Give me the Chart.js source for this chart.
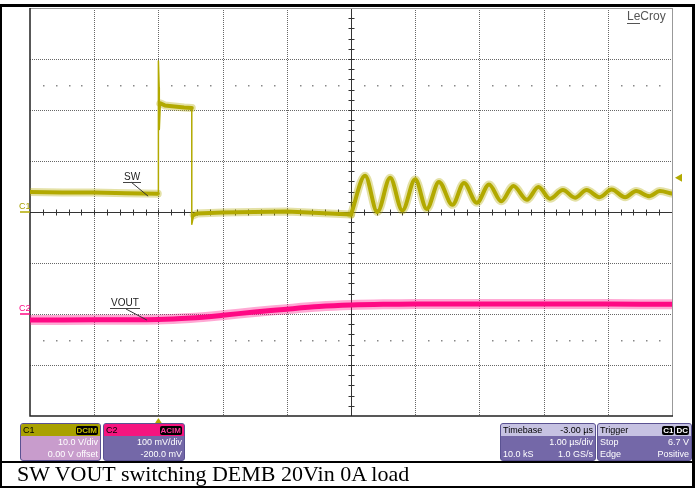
<!DOCTYPE html>
<html>
<head>
<meta charset="utf-8">
<script src="https://cdn.jsdelivr.net/npm/chart.js@4.4.1/dist/chart.umd.min.js"></script>
<style>
  html, body { margin: 0; padding: 0; background: #fff; }
  #wrap { position: relative; width: 695px; height: 488px; overflow: hidden; font-family: "Liberation Sans", Arial, sans-serif; }
  #scope { position: absolute; left: 0; top: 0; }
  .bar { position: absolute; background: #000; }
  .tag { position: absolute; font-size: 10px; line-height: 9px; white-space: nowrap; }
  .panel { position: absolute; top: 423px; height: 36px; border: 1px solid #5a5292; border-radius: 3px; overflow: hidden; font-size: 9px; color: #fff; background: #7468a8; }
  .panel .hd { height: 12px; line-height: 12px; padding: 0 2px; display: flex; justify-content: space-between; align-items: center; color: #000; }
  .panel .row { height: 12px; line-height: 12px; padding: 0 2px; display: flex; justify-content: space-between; }
  .badge { background: #000; border-radius: 2px; padding: 0 1px; line-height: 9px; font-size: 8px; font-weight: bold; }
  #caption { position: absolute; left: 17px; top: 462px; font-family: "Liberation Serif", "Times New Roman", serif; font-size: 22px; line-height: 24px; color: #000; white-space: nowrap; }
</style>
</head>
<body>
<div id="wrap">
  <canvas id="scope" width="695" height="488"></canvas>

  <div class="bar" style="left:0;top:4px;width:695px;height:3px"></div>
  <div class="bar" style="left:0;top:4px;width:2px;height:484px"></div>
  <div class="bar" style="left:692px;top:4px;width:3px;height:484px"></div>
  <div class="bar" style="left:0;top:461px;width:695px;height:2px"></div>
  <div class="bar" style="left:0;top:486px;width:695px;height:2px"></div>

  <div class="tag" style="left:627px;top:11px;font-size:12px;line-height:11px;color:#555">
    <span style="border-bottom:1px solid #555">Le</span>Croy</div>

  <div class="tag" style="left:123px;top:172px;color:#222;border-bottom:1px solid #444;padding:0 1px 1px 1px">SW</div>
  <div class="tag" style="left:110px;top:298px;color:#222;border-bottom:1px solid #444;padding:0 1px 1px 1px">VOUT</div>
  <div class="tag" style="left:19px;top:202px;font-size:9px;color:#a8a000">C1</div>
  <div class="tag" style="left:19px;top:304px;font-size:9px;color:#ff0a85">C2</div>

  <div class="panel" style="left:20px;width:79px;background:#c89ccc">
    <div class="hd" style="background:#a9a100"><span>C1</span><span class="badge" style="color:#c8c000">DCIM</span></div>
    <div class="row"><span></span><span>10.0 V/div</span></div>
    <div class="row"><span></span><span>0.00 V offset</span></div>
  </div>
  <div class="panel" style="left:103px;width:80px">
    <div class="hd" style="background:#f5157f"><span>C2</span><span class="badge" style="color:#ff3a9a">ACIM</span></div>
    <div class="row"><span></span><span>100 mV/div</span></div>
    <div class="row"><span></span><span>-200.0 mV</span></div>
  </div>
  <div class="panel" style="left:500px;width:94px">
    <div class="hd" style="background:#c6c2e2"><span>Timebase</span><span>-3.00 µs</span></div>
    <div class="row"><span></span><span>1.00 µs/div</span></div>
    <div class="row"><span>10.0 kS</span><span>1.0 GS/s</span></div>
  </div>
  <div class="panel" style="left:597px;width:93px">
    <div class="hd" style="background:#c6c2e2"><span>Trigger</span><span><span class="badge" style="color:#fff">C1</span><span class="badge" style="color:#fff;margin-left:1px">DC</span></span></div>
    <div class="row"><span>Stop</span><span>6.7 V</span></div>
    <div class="row"><span>Edge</span><span>Positive</span></div>
  </div>

  <div id="caption">SW VOUT switching DEMB 20Vin 0A load</div>
</div>

<script>
// time in µs, trigger at 0 (1 µs/div)
const timeGrid = [-2, -1, 0, 1, 2, 3, 4, 5, 6, 7, 8];
// C1 volts, 10 V/div
const voltGrid = [-40, -30, -20, -10, 0, 10, 20, 30, 40];

// SW (C1) up to the start of ringing
const swTime  = [-2.0, -1.5, -1.0, -0.5, -0.01, 0.0, 0.0, 0.012, 0.014, 0.03, 0.1, 0.25, 0.4, 0.52, 0.52, 0.55, 0.6, 1.0, 1.5, 2.0, 2.5, 3.0];
const swVolts = [3.9, 3.8, 3.8, 3.7, 3.6, 3.6, 29.6, 24.4, 16.2, 21.3, 20.9, 20.7, 20.5, 20.4, -2.4, -0.6, -0.3, -0.1, 0.0, 0.1, -0.2, -0.5];

// SW ringing after the diode stops conducting (peaks and troughs)
const ringTime  = [3.0, 3.22, 3.41, 3.61, 3.80, 4.00, 4.18, 4.37, 4.58, 4.76, 4.96, 5.15, 5.34, 5.53, 5.74, 5.92, 6.10, 6.30, 6.49, 6.67, 6.87, 7.06, 7.27, 7.44, 7.65, 7.81, 8.0];
const ringVolts = [-0.5, 7.1, 0.0, 6.7, 0.3, 6.4, 0.6, 5.9, 1.4, 5.7, 1.8, 5.4, 2.1, 5.1, 2.4, 4.9, 2.6, 4.3, 2.8, 4.3, 2.9, 4.4, 2.9, 4.1, 3.1, 4.1, 3.6];

// VOUT (C2, AC coupled) in mV
const voutTime = [-2.0, -1.0, 0.0, 0.5, 1.0, 1.5, 2.0, 2.5, 3.0, 3.5, 4.0, 5.0, 6.0, 7.0, 8.0];
const voutMilliVolts = [-11.8, -11.5, -11.0, -8.0, -2.5, 4.0, 9.5, 14.5, 17.5, 19.0, 19.5, 19.6, 19.6, 19.4, 19.2];

const triggerLevel = 6.7;
const SW_COLOR = "#b2aa00";
const VOUT_COLOR = "#ff0a85";

const toPoints = (xs, ys) => xs.map((x, i) => ({ x: x, y: ys[i] }));

// thin line on the fast edges, thick noisy band elsewhere
const isEdge = c => Math.abs(c.p1.x - c.p0.x) < 3;

const scopeGrid = {
  id: "scopeGrid",
  beforeDatasetsDraw(chart) {
    const { ctx, chartArea: a, scales } = chart;
    const x = scales.x, y = scales.y;
    ctx.save();
    ctx.lineWidth = 1;

    // dotted graticule
    ctx.strokeStyle = "#666";
    ctx.setLineDash([1, 1]);
    timeGrid.forEach(t => {
      if (t === timeGrid[0] || t === timeGrid[timeGrid.length - 1] || t === 3) return;
      const px = Math.round(x.getPixelForValue(t)) + 0.5;
      ctx.beginPath(); ctx.moveTo(px, a.top); ctx.lineTo(px, a.bottom); ctx.stroke();
    });
    voltGrid.forEach(v => {
      if (v === voltGrid[0] || v === voltGrid[voltGrid.length - 1] || v === 0) return;
      const py = Math.round(y.getPixelForValue(v)) + 0.5;
      ctx.beginPath(); ctx.moveTo(a.left, py); ctx.lineTo(a.right, py); ctx.stroke();
    });
    ctx.setLineDash([]);

    // centre cross with minor ticks
    const cx = Math.round(x.getPixelForValue(3)) + 0.5;
    const cy = Math.round(y.getPixelForValue(0)) + 0.5;
    ctx.strokeStyle = "#333";
    ctx.beginPath();
    ctx.moveTo(a.left, cy); ctx.lineTo(a.right, cy);
    ctx.moveTo(cx, a.top); ctx.lineTo(cx, a.bottom);
    for (let i = 1; i < 50; i++) {
      const px = Math.round(x.getPixelForValue(-2 + i * 0.2)) + 0.5;
      ctx.moveTo(px, cy - 3); ctx.lineTo(px, cy + 3);
    }
    for (let i = 1; i < 40; i++) {
      const py = Math.round(y.getPixelForValue(-40 + i * 2)) + 0.5;
      ctx.moveTo(cx - 3, py); ctx.lineTo(cx + 3, py);
    }
    ctx.stroke();

    // sparse dot rows
    ctx.fillStyle = "#888";
    [25, -25].forEach(v => {
      const py = Math.round(y.getPixelForValue(v));
      for (let i = 1; i < 50; i++) {
        if (i % 5 === 0) continue;
        const px = Math.round(x.getPixelForValue(-2 + i * 0.2));
        ctx.fillRect(px, py, 1.5, 1.5);
      }
    });

    // frame
    ctx.strokeStyle = "#999";
    ctx.beginPath();
    ctx.moveTo(a.left, a.top + 0.5); ctx.lineTo(a.right, a.top + 0.5);
    ctx.moveTo(a.right + 0.5, a.top); ctx.lineTo(a.right + 0.5, a.bottom);
    ctx.stroke();
    ctx.strokeStyle = "#222";
    ctx.lineWidth = 1.5;
    ctx.beginPath();
    ctx.moveTo(a.left, a.top); ctx.lineTo(a.left, a.bottom);
    ctx.lineTo(a.right + 1, a.bottom);
    ctx.stroke();
    ctx.restore();
  },
  afterDatasetsDraw(chart) {
    const { ctx, chartArea: a, scales } = chart;
    const x = scales.x, y = scales.y, y2 = scales.y2;
    ctx.save();
    // leader lines from the labels to the traces
    ctx.strokeStyle = "#333";
    ctx.lineWidth = 1;
    ctx.beginPath();
    ctx.moveTo(131, 182); ctx.lineTo(x.getPixelForValue(-0.16), y.getPixelForValue(3.1));
    ctx.moveTo(126, 309); ctx.lineTo(x.getPixelForValue(-0.18), y2.getPixelForValue(-11.8));
    ctx.stroke();

    // channel offset markers
    ctx.lineWidth = 1.5;
    ctx.strokeStyle = SW_COLOR;
    ctx.beginPath(); ctx.moveTo(20, y.getPixelForValue(0)); ctx.lineTo(a.left, y.getPixelForValue(0)); ctx.stroke();
    ctx.strokeStyle = VOUT_COLOR;
    ctx.beginPath(); ctx.moveTo(20, y2.getPixelForValue(0)); ctx.lineTo(a.left, y2.getPixelForValue(0)); ctx.stroke();

    // trigger level and position markers
    ctx.fillStyle = SW_COLOR;
    const ty = y.getPixelForValue(triggerLevel);
    ctx.beginPath(); ctx.moveTo(675, ty); ctx.lineTo(682, ty - 4); ctx.lineTo(682, ty + 4); ctx.closePath(); ctx.fill();
    const tx = x.getPixelForValue(0);
    ctx.beginPath(); ctx.moveTo(tx, a.bottom + 2); ctx.lineTo(tx - 4, a.bottom + 8); ctx.lineTo(tx + 4, a.bottom + 8); ctx.closePath(); ctx.fill();
    ctx.restore();
  }
};

new Chart(document.getElementById("scope"), {
  type: "line",
  data: {
    datasets: [
      {
        data: toPoints(voutTime, voutMilliVolts),
        yAxisID: "y2",
        borderColor: "rgba(255,10,133,0.35)",
        borderWidth: 10,
        tension: 0.3
      },
      {
        data: toPoints(voutTime, voutMilliVolts),
        yAxisID: "y2",
        borderColor: VOUT_COLOR,
        borderWidth: 5,
        tension: 0.3
      },
      {
        data: toPoints(swTime, swVolts),
        yAxisID: "y",
        borderColor: "rgba(178,170,0,0.35)",
        borderWidth: 8,
        tension: 0,
        segment: { borderColor: c => isEdge(c) ? "rgba(0,0,0,0)" : undefined }
      },
      {
        data: toPoints(swTime, swVolts),
        yAxisID: "y",
        borderColor: SW_COLOR,
        borderWidth: 4,
        tension: 0,
        segment: { borderWidth: c => isEdge(c) ? 1.5 : undefined }
      },
      {
        data: toPoints(ringTime, ringVolts),
        yAxisID: "y",
        borderColor: "rgba(178,170,0,0.35)",
        borderWidth: 8,
        cubicInterpolationMode: "monotone"
      },
      {
        data: toPoints(ringTime, ringVolts),
        yAxisID: "y",
        borderColor: SW_COLOR,
        borderWidth: 4,
        cubicInterpolationMode: "monotone"
      }
    ]
  },
  options: {
    responsive: false,
    animation: false,
    events: [],
    layout: { padding: { left: 30, right: 23, top: 8, bottom: 72 } },
    elements: {
      point: { radius: 0 },
      line: { borderCapStyle: "round", borderJoinStyle: "round" }
    },
    plugins: { legend: { display: false }, tooltip: { enabled: false } },
    scales: {
      x: { type: "linear", min: -2, max: 8, display: false },
      y: { min: -40, max: 40, display: false },
      y2: { min: -200, max: 600, display: false }
    }
  },
  plugins: [scopeGrid]
});
</script>
</body>
</html>
